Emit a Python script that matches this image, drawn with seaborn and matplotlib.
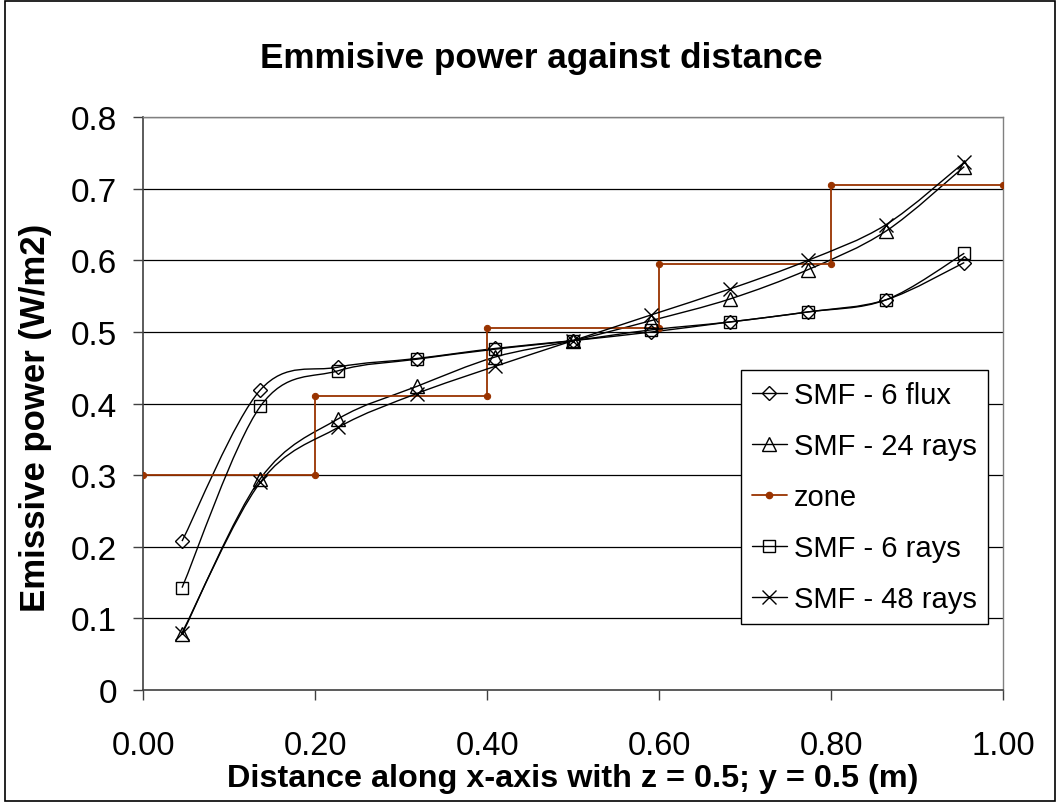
import numpy as np
import matplotlib.pyplot as plt
import seaborn as sns
from matplotlib.path import Path
from matplotlib.patches import PathPatch, Rectangle
from matplotlib.lines import Line2D

sns.set_style("white")
plt.rcParams['font.family'] = ['Liberation Sans', 'DejaVu Sans']
plt.rcParams['text.color'] = 'black'
plt.rcParams['axes.labelcolor'] = 'black'
plt.rcParams['xtick.color'] = 'black'
plt.rcParams['ytick.color'] = 'black'

# Data
x_pos = [0.045, 0.136, 0.227, 0.318, 0.409, 0.500, 0.591, 0.682, 0.773, 0.864, 0.955]
smf_6_flux = [0.208, 0.419, 0.451, 0.463, 0.477, 0.488, 0.500, 0.514, 0.528, 0.545, 0.597]
smf_24_rays = [0.078, 0.295, 0.379, 0.424, 0.465, 0.488, 0.516, 0.546, 0.587, 0.641, 0.731]
smf_6_rays = [0.143, 0.396, 0.446, 0.462, 0.476, 0.488, 0.503, 0.514, 0.528, 0.545, 0.610]
smf_48_rays = [0.080, 0.290, 0.367, 0.414, 0.452, 0.488, 0.524, 0.560, 0.600, 0.650, 0.737]
zone_edges = [0.0, 0.2, 0.4, 0.6, 0.8, 1.0]
zone_values = [0.300, 0.410, 0.505, 0.595, 0.705]

x_ticks = [0.0, 0.2, 0.4, 0.6, 0.8, 1.0]
x_labels = ['0.00', '0.20', '0.40', '0.60', '0.80', '1.00']
y_ticks = [0, 0.1, 0.2, 0.3, 0.4, 0.5, 0.6, 0.7, 0.8]
y_labels = ['0', '0.1', '0.2', '0.3', '0.4', '0.5', '0.6', '0.7', '0.8']

zone_color = '#993300'


def smooth_path(xs, ys):
    # Excel-style smoothed line: cubic Bezier through the points
    pts = np.column_stack([xs, ys])
    n = len(pts)
    verts = [pts[0]]
    codes = [Path.MOVETO]
    for i in range(n - 1):
        p0 = pts[i - 1] if i > 0 else pts[i]
        p1 = pts[i]
        p2 = pts[i + 1]
        p3 = pts[i + 2] if i + 2 < n else pts[i + 1]
        verts += [p1 + (p2 - p0) / 6, p2 - (p3 - p1) / 6, p2]
        codes += [Path.CURVE4] * 3
    return Path(verts, codes)


fig = plt.figure(figsize=(10.58, 8.04), dpi=100)
ax = fig.add_axes([0.1355, 0.1405, 0.8125, 0.7125])

for y in y_ticks[1:]:
    ax.axhline(y, color='black', lw=0.9, zorder=0)

series = [
    ('SMF - 6 flux', smf_6_flux, 'D', 6.8),
    ('SMF - 24 rays', smf_24_rays, '^', 9.5),
    ('zone', None, None, None),
    ('SMF - 6 rays', smf_6_rays, 's', 8.5),
    ('SMF - 48 rays', smf_48_rays, 'x', 10),
]

handles = []
for name, vals, mk, ms in series:
    if vals is None:
        zx = np.repeat(zone_edges, 2)[1:-1]
        zy = np.repeat(zone_values, 2)
        sns.lineplot(x=zx, y=zy, sort=False, estimator=None, ax=ax,
                     color=zone_color, lw=1.3, marker='o', ms=4.5,
                     mec=zone_color, mfc=zone_color, zorder=3)
        handles.append(Line2D([], [], color=zone_color, lw=1.3, marker='o',
                              ms=4.5, mec=zone_color, mfc=zone_color))
        continue
    ax.add_patch(PathPatch(smooth_path(x_pos, vals), fill=False,
                           edgecolor='black', lw=1.0, zorder=3))
    sns.lineplot(x=x_pos, y=vals, ax=ax, linestyle='', marker=mk, ms=ms,
                 mfc='none', mec='black', mew=1.0, color='black', zorder=4)
    handles.append(Line2D([], [], color='black', lw=1.0, marker=mk, ms=ms,
                          mfc='none', mec='black', mew=1.0))

ax.set_xlim(0, 1)
ax.set_ylim(0, 0.8)
ax.set_xticks(x_ticks)
ax.set_xticklabels(x_labels)
ax.set_yticks(y_ticks)
ax.set_yticklabels(y_labels)
ax.tick_params(axis='x', direction='out', length=7, width=1, pad=22,
               labelsize=23.5, color='#404040', bottom=True)
ax.tick_params(axis='y', direction='out', length=7, width=1, pad=12,
               labelsize=24, color='#404040', left=True)

for side in ['left', 'bottom']:
    ax.spines[side].set_color('#404040')
    ax.spines[side].set_linewidth(1.2)
for side in ['top', 'right']:
    ax.spines[side].set_color('#808080')
    ax.spines[side].set_linewidth(1.0)

ax.set_title('Emmisive power against distance', fontsize=25.3,
             fontweight='bold', pad=36, x=0.463)
ax.set_xlabel('Distance along x-axis with z = 0.5; y = 0.5 (m)', fontsize=23.3,
              fontweight='bold', labelpad=1)
ax.set_ylabel('Emissive power (W/m2)', fontsize=25, fontweight='bold',
              labelpad=13.5)
ax.yaxis.label.set_y(0.476)

leg = ax.legend(handles, [s[0] for s in series], loc='upper right',
                bbox_to_anchor=(0.9825, 0.5585), borderaxespad=0,
                fontsize=21, frameon=True, fancybox=False, framealpha=1,
                edgecolor='black', handlelength=1.2, handletextpad=0.25,
                labelspacing=0.79, borderpad=0.38)
leg.get_frame().set_linewidth(1.0)

fig.patches.append(Rectangle((0.005, 0.003), 0.992, 0.994, transform=fig.transFigure,
                             fill=False, edgecolor='black', lw=1.2))

fig.savefig('out.png', dpi=100)
